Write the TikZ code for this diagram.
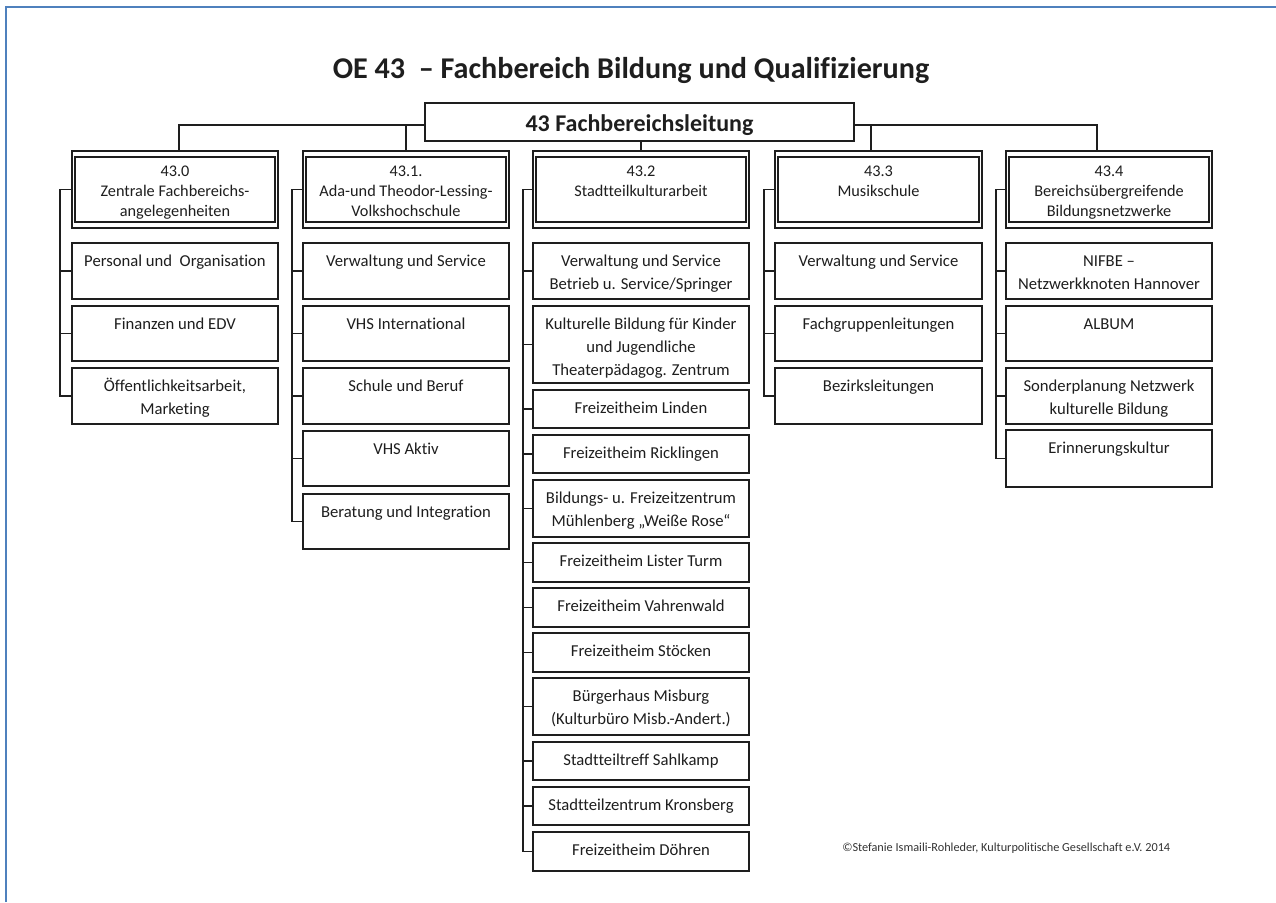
\documentclass[tikz,border=0pt]{standalone}
\usepackage{fontspec}
\setmainfont{Carlito}[Ligatures=CommonOff]
\usetikzlibrary{calc}
\definecolor{framecol}{HTML}{4F81BD}
\definecolor{ink}{HTML}{1E1E1E}
\tikzset{
  ubox/.style={draw=ink, line width=1.1pt, inner sep=0pt, outer sep=0pt, anchor=north west, fill=white},
  utext/.style={anchor=north, inner sep=0pt, align=center, text=ink, font=\fontsize{12.5}{17.5}\selectfont},
  htext/.style={anchor=north, inner sep=0pt, align=center, text=ink, font=\fontsize{12.2}{15}\selectfont},
  conn/.style={draw=ink, line width=0.9pt},
}
% name, x, ytop, width, height, text
\newcommand\unitbox[6]{%
  \node[ubox, minimum width={#4*0.75pt}, minimum height={#5*0.75pt}] (#1) at (#2,#3) {};
  \node[utext] (#1t) at ([yshift=-5.25pt]#1.north) {\rule{0pt}{12pt}#6};}
% name, x, width, text
\newcommand\headbox[4]{%
  \node[ubox, line width=0.8pt, minimum width={#3*0.75pt}, minimum height={77*0.75pt}] (#1) at (#2,151) {};
  \draw[draw=ink, line width=1.4pt] ([shift={(2.25pt,-4.5pt)}]#1.north west) rectangle ([shift={(-2.25pt,4.5pt)}]#1.south east);
  \node[htext] (#1t) at ([yshift=-6.75pt]#1.north) {\rule{0pt}{12pt}#4};}
\begin{document}
\begin{tikzpicture}[x=0.75pt, y=-0.75pt]
\useasboundingbox (0,0) rectangle (1276,902);
% frame
\draw[framecol, line width=1.2pt] (6,902) -- (6,7) -- (1276,7);
% title
\node[font=\bfseries\fontsize{22.6}{27}\selectfont, anchor=base, text=ink] (title) at (631,79) {OE 43\ \ – Fachbereich Bildung und Qualifizierung};
% top box
\node[ubox, minimum width={429*0.75pt}, minimum height={38*0.75pt}, font=\bfseries\fontsize{18}{21}\selectfont, text=ink, text height=15pt, text depth=0pt] (top) at (425,103) {43 Fachbereichsleitung};

% headers
\headbox{h0}{72}{206}{43.0\\Zentrale Fachbereichs-\\angelegenheiten}
\headbox{h1}{303}{206}{43.1.\\Ada-und Theodor-Lessing-\\Volkshochschule}
\headbox{h2}{533}{216}{43.2\\Stadtteilkulturarbeit}
\headbox{h3}{775}{207}{43.3\\Musikschule}
\headbox{h4}{1006}{206}{43.4\\Bereichsübergreifende\\Bildungsnetzwerke}

% column 0
\unitbox{c01}{72}{243}{206}{56}{Personal und\ \ Organisation}
\unitbox{c02}{72}{306}{206}{55}{Finanzen und EDV}
\unitbox{c03}{72}{368}{206}{56}{Öffentlichkeitsarbeit,\\Marketing}
% column 1
\unitbox{c11}{303}{243}{206}{56}{Verwaltung und Service}
\unitbox{c12}{303}{306}{206}{55}{VHS International}
\unitbox{c13}{303}{368}{206}{56}{Schule und Beruf}
\unitbox{c14}{303}{431}{206}{55}{VHS Aktiv}
\unitbox{c15}{303}{494}{206}{55}{Beratung und Integration}
% column 2
\unitbox{c21}{533}{243}{216}{56}{Verwaltung und Service\\Betrieb u. Service/Springer}
\unitbox{c22}{533}{306}{216}{77}{Kulturelle Bildung für Kinder\\und Jugendliche\\Theaterpädagog. Zentrum}
\unitbox{c23}{533}{390}{216}{38}{Freizeitheim Linden}
\unitbox{c24}{533}{435}{216}{38}{Freizeitheim Ricklingen}
\unitbox{c25}{533}{480}{216}{57}{Bildungs- u. Freizeitzentrum\\Mühlenberg „Weiße Rose“}
\unitbox{c26}{533}{543}{216}{39}{Freizeitheim Lister Turm}
\unitbox{c27}{533}{588}{216}{39}{Freizeitheim Vahrenwald}
\unitbox{c28}{533}{633}{216}{39}{Freizeitheim Stöcken}
\unitbox{c29}{533}{678}{216}{57}{Bürgerhaus Misburg\\(Kulturbüro Misb.-Andert.)}
\unitbox{c2a}{533}{742}{216}{38}{Stadtteiltreff Sahlkamp}
\unitbox{c2b}{533}{787}{216}{38}{Stadtteilzentrum Kronsberg}
\unitbox{c2c}{533}{832}{216}{39}{Freizeitheim Döhren}
% column 3
\unitbox{c31}{775}{243}{207}{56}{Verwaltung und Service}
\unitbox{c32}{775}{306}{207}{55}{Fachgruppenleitungen}
\unitbox{c33}{775}{368}{207}{56}{Bezirksleitungen}
% column 4
\unitbox{c41}{1006}{243}{206}{56}{NIFBE –\\Netzwerkknoten Hannover}
\unitbox{c42}{1006}{306}{206}{55}{ALBUM}
\unitbox{c43}{1006}{368}{206}{56}{Sonderplanung Netzwerk\\kulturelle Bildung}
\unitbox{c44}{1006}{430}{206}{57}{Erinnerungskultur}

% spines
\coordinate (s0) at (60,0);
\coordinate (s1) at (292,0);
\coordinate (s2) at (523,0);
\coordinate (s3) at (764,0);
\coordinate (s4) at (996,0);
\draw[conn] (h0.west) -- (h0.west -| s0) |- (c03.west);
\foreach \c in {c01,c02} \draw[conn] (\c.west) -- (\c.west -| s0);
\draw[conn] (h1.west) -- (h1.west -| s1) |- (c15.west);
\foreach \c in {c11,c12,c13,c14} \draw[conn] (\c.west) -- (\c.west -| s1);
\draw[conn] (h2.west) -- (h2.west -| s2) |- (c2c.west);
\foreach \c in {c21,c22,c23,c24,c25,c26,c27,c28,c29,c2a,c2b} \draw[conn] (\c.west) -- (\c.west -| s2);
\draw[conn] (h3.west) -- (h3.west -| s3) |- (c33.west);
\foreach \c in {c31,c32} \draw[conn] (\c.west) -- (\c.west -| s3);
\draw[conn] (h4.west) -- (h4.west -| s4) |- (c44.west);
\foreach \c in {c41,c42,c43} \draw[conn] (\c.west) -- (\c.west -| s4);

% top connectors
\coordinate (lj) at ([yshift=-2.25pt]top.west);
\coordinate (rj) at ([yshift=-2.25pt]top.east);
\draw[conn] (lj) -| ([xshift=3pt]h0.north);
\draw[conn] (h1.north) -- (h1.north |- lj);
\draw[conn] (h2.north) -- (h2.north |- top.south);
\draw[conn] (rj) -| ([xshift=-9pt]h4.north);
\draw[conn] ([xshift=-5.6pt]h3.north) -- ([xshift=-5.6pt]h3.north |- rj);

% copyright
\node[font=\fontsize{9.2}{11}\selectfont, anchor=base west, inner sep=0pt, text=black!80] (copy) at (842,851) {©Stefanie Ismaili-Rohleder, Kulturpolitische Gesellschaft e.V. 2014};
\end{tikzpicture}
\end{document}
